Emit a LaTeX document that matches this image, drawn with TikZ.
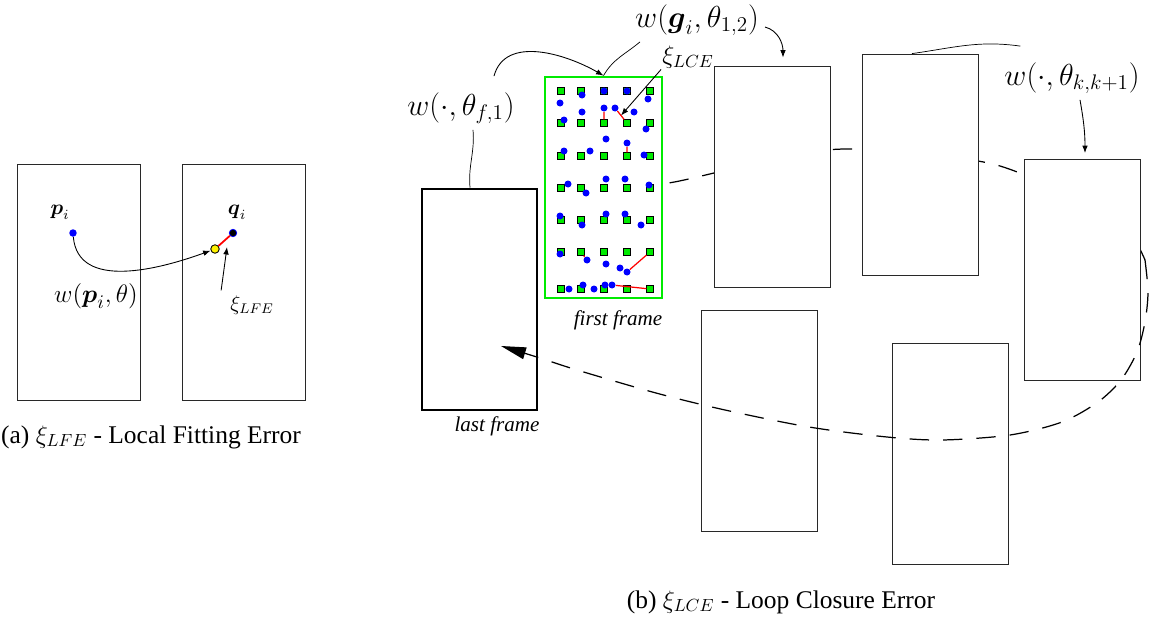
\documentclass[tikz,border=0pt]{standalone}
\usepackage{amsmath,amssymb}
\usepackage{fontspec}
\setmainfont{Liberation Serif}
\usepackage{tikz}
\usetikzlibrary{arrows.meta,positioning,calc}
\definecolor{FrameGreen}{RGB}{0,235,0}
\definecolor{DotBlue}{RGB}{0,0,255}
\definecolor{FrameGray}{RGB}{40,40,40}

\begin{document}
\begin{tikzpicture}[x=0.02cm, y=-0.02cm,
    frm/.style={draw=FrameGray, fill=white, line width=0.5pt, minimum width=2.32cm, minimum height=4.42cm, inner sep=0pt},
    afrm/.style={frm, minimum width=2.46cm, minimum height=4.72cm},
    bdot/.style={circle, fill=DotBlue, inner sep=0pt, minimum size=0.14cm},
    gsq/.style={draw, fill=FrameGreen, line width=0.4pt, inner sep=0pt, minimum size=0.13cm},
    arr/.style={-{Latex[length=1.5mm]}, line width=0.5pt},
    closure/.style={dash pattern=on 11pt off 8pt, line width=0.7pt}]
  \useasboundingbox (0,0) rectangle (1150,622);

  % (a) local fitting error
  \node[afrm] (fa1) at (78.5,282) {};
  \node[afrm] (fa2) at (243.5,282) {};
  \node[circle, fill=DotBlue, inner sep=0pt, minimum size=0.15cm] (pdot) at (73,233) {};
  \node[circle, fill=black, draw=DotBlue, inner sep=0pt, minimum size=0.15cm] (qdot) at (233,233) {};
  \node[circle, fill=yellow, draw=black, line width=0.5pt, inner sep=0pt, minimum size=0.17cm] (ydot) at (215,249) {};
  \draw[red, line width=1pt] (ydot) -- (qdot);
  \node (plbl) at (60,212) {\large $\boldsymbol{p}_i$};
  \node (qlbl) at (237,212) {\large $\boldsymbol{q}_i$};
  \draw[arr] (pdot) to[out=-85, in=200] (ydot);
  \node (wlbl) at (96,296) {\fontsize{15}{18}\selectfont $w(\boldsymbol{p}_i,\theta)$};
  \node (xlbl) at (252,305) {\large $\xi_{LFE}$};
  \coordinate (xtip) at (227,247);
  \draw[arr] ([xshift=-0.06cm, yshift=-0.02cm]xlbl.north west) -- (xtip);
  \node (capa) at (151,437) {\fontsize{14.5}{17}\selectfont (a) $\xi_{LFE}$ - Local Fitting Error};

  % (b) loop closure error
  \node[frm, draw=black, line width=1.6pt, minimum width=2.3cm] (lastf) at (479.5,299.5) {};
  \draw[closure] plot[smooth] coordinates {(603,187) (662,184) (714,173) (780,156) (845,149) (925,154) (1000,166) (1080,200) (1128,232) (1145,260)};
  \node[frm, draw=FrameGreen, line width=1.6pt, minimum width=2.34cm] (firstf) at (603.5,187.5) {};
  \node[frm] (f2) at (772,176.5) {};
  \node[frm] (f3) at (920,164.5) {};
  \node[frm] (f4) at (1082,270) {};
  \node[frm] (f5) at (759.5,421) {};
  \node[frm] (f6) at (950,454) {};
  \draw[closure, -{Triangle[length=5mm, width=2.4mm]}] plot[smooth] coordinates {(1145,260) (1148,292) (1145,322) (1137,352) (1121,380) (1098,402) (1062,422) (1010,435) (942,440) (887,437) (809,427) (725,410) (656,393) (577,370) (540,358) (501,346)};

  % grid points of the first frame
  \foreach \x [count=\c] in {561,581,604,627,650}
    \foreach \y [count=\r] in {91,123,156,188,220,252,289}
      \node[gsq] (s-\c-\r) at (\x,\y) {};
  \foreach \p [count=\k] in {(582,95),(604,91),(627,91),(560,103),(648,99),(582,112),(634,112),(564,120),(646,129),(606,139),
      (564,151),(590,151),(644,155),(568,184),(586,193),(606,179),(625,179),(649,185),(560,216),(582,225),
      (606,214),(625,214),(641,225),(560,254),(606,264),(620,268),(569,289),(583,285),(594,289),(605,285)}
    \node[bdot] (d\k) at \p {};
  \node[bdot] (e1) at (604,108) {};
  \node[bdot] (e2) at (615,108) {};
  \node[bdot] (e3) at (627,143) {};
  \node[bdot] (e4) at (587,260) {};
  \node[bdot] (e5) at (627,272) {};
  \node[bdot] (e6) at (612,285) {};
  \draw[red, line width=0.7pt] (e1) -- (s-3-2) (e2) -- (s-4-2) (e3) -- (s-4-3)
    (s-2-6) -- (e4) (e5) -- (s-5-6) (e6) -- (s-5-7);

  \node (lastlbl) at (497,426) {\large\itshape last frame};
  \node (firstlbl) at (618,320) {\large\itshape first frame};

  \node (lblf1) at (461,108) {\LARGE $w(\cdot,\theta_{f,1})$};
  \draw ([xshift=-0.19cm]lastf.north) to[out=95, in=-85] ([xshift=0.24cm]lblf1.south);
  \draw[arr] ([xshift=0.66cm, yshift=0.2cm]lblf1.north) to[out=75, in=150] (firstf.north);

  \node (lblg) at (697,20) {\LARGE $w(\boldsymbol{g}_i,\theta_{1,2})$};
  \draw ([xshift=0.22cm]lblg.south west) to[out=-140, in=60] (firstf.north);
  \draw[arr] ([yshift=-0.14cm]lblg.east) to[out=-15, in=90] ([xshift=0.22cm, yshift=0.16cm]f2.north);

  \node (lblx) at (688,57) {\Large $\xi_{LCE}$};
  \draw[arr] ([xshift=0.1cm, yshift=0.1cm]lblx.south west) -- ($(e2)!0.5!(s-4-2)$);

  \node (lblk) at (1072,78) {\LARGE $w(\cdot,\theta_{k,k+1})$};
  \draw ([xshift=-0.16cm]f3.north) to[out=8, in=172] ([xshift=0.44cm, yshift=0.2cm]lblk.north west);
  \draw[arr] ([xshift=0.16cm]lblk.south) to[out=-80, in=90] ([xshift=0.06cm, yshift=0.12cm]f4.north);

  \node (capb) at (781,602) {\fontsize{14.5}{17}\selectfont (b) $\xi_{LCE}$ - Loop Closure Error};
\end{tikzpicture}
\end{document}
